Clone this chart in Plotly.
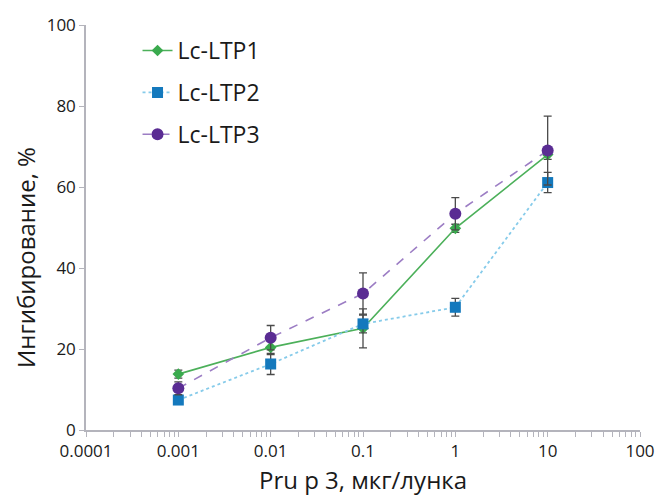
import plotly.graph_objects as go

# Concentration of Pru p 3 (µg/well)
dose = [0.001, 0.01, 0.1, 1, 10]

# Inhibition, % (mean and error) for each protein
ltp1 = [13.8, 20.4, 25.1, 49.8, 68.0]
ltp1_err = [1.0, 1.8, 4.8, 1.0, 1.2]

ltp2 = [7.4, 16.3, 26.2, 30.3, 61.1]
ltp2_err = [0.8, 2.6, 2.2, 2.2, 2.5]

ltp3 = [10.3, 22.8, 33.7, 53.4, 69.0]
ltp3_err = [1.6, 3.0, 5.1, 4.0, 8.5]

x_major_vals = [0.0001, 0.001, 0.01, 0.1, 1, 10, 100]
x_major_text = ["0.0001", "0.001", "0.01", "0.1", "1", "10", "100"]
y_tick_vals = [0, 20, 40, 60, 80, 100]

# Log-axis ticks: labelled decades plus unlabelled 2..9 within every decade
x_minor_vals = [k * 10.0 ** e for e in range(-4, 2) for k in range(2, 10)]
x_tick_vals = x_major_vals + x_minor_vals
x_tick_text = x_major_text + [""] * len(x_minor_vals)

FONT = "Open Sans"
TEXT_COLOR = "#1a1a1a"
AXIS_COLOR = "#b4b4bc"
ERR_COLOR = "#4a4a4a"

fig = go.Figure()

fig.add_trace(go.Scatter(
    x=dose, y=ltp1, name="Lc-LTP1", mode="lines+markers",
    line=dict(color="#4cb05a", width=1.6, dash="solid"),
    marker=dict(symbol="diamond", size=9, color="#3aaa4e"),
    error_y=dict(type="data", array=ltp1_err, color=ERR_COLOR, thickness=1.3, width=4),
    legendgroup="g1",
))
fig.add_trace(go.Scatter(
    x=dose, y=ltp2, name="Lc-LTP2", mode="lines+markers",
    line=dict(color="#86cbea", width=1.8, dash="dot"),
    marker=dict(symbol="square", size=11, color="#1479bd"),
    error_y=dict(type="data", array=ltp2_err, color=ERR_COLOR, thickness=1.3, width=4),
    legendgroup="g2",
))
fig.add_trace(go.Scatter(
    x=dose, y=ltp3, name="Lc-LTP3", mode="lines+markers",
    line=dict(color="#9c7dc4", width=1.6, dash="dash"),
    marker=dict(symbol="circle", size=12, color="#5a2c93"),
    error_y=dict(type="data", array=ltp3_err, color=ERR_COLOR, thickness=1.3, width=4),
    legendgroup="g3",
))

fig.update_layout(
    width=667, height=502,
    margin=dict(l=86, r=20, t=25, b=72),
    paper_bgcolor="white", plot_bgcolor="white",
    font=dict(family=FONT, size=17, color=TEXT_COLOR),
    showlegend=True,
    legend=dict(
        x=0.093, y=0.99, xanchor="left", yanchor="top",
        font=dict(family=FONT, size=23, color=TEXT_COLOR),
        bgcolor="rgba(0,0,0,0)",
        traceorder="grouped", tracegroupgap=9,
    ),
)

fig.update_xaxes(
    type="log", range=[-4, 2],
    tickmode="array", tickvals=x_tick_vals, ticktext=x_tick_text,
    ticks="outside", ticklen=5, tickcolor=AXIS_COLOR, tickwidth=1,
    showline=True, linecolor=AXIS_COLOR, linewidth=1.5,
    showgrid=False, zeroline=False,
    tickfont=dict(family=FONT, size=17),
    title=dict(text="Pru p 3, мкг/лунка", font=dict(family=FONT, size=24), standoff=11),
)
fig.update_yaxes(
    range=[0, 100], tickvals=y_tick_vals,
    ticks="outside", ticklen=5, tickcolor=AXIS_COLOR,
    showline=True, linecolor=AXIS_COLOR, linewidth=1.5,
    showgrid=False, zeroline=False,
    tickfont=dict(family=FONT, size=17),
)

# Vertical axis caption, set slightly below the middle of the axis
fig.add_annotation(
    text="Ингибирование, %", textangle=-90,
    xref="paper", yref="paper", x=-0.108, y=0.425,
    xanchor="center", yanchor="middle", showarrow=False,
    font=dict(family=FONT, size=24, color=TEXT_COLOR),
)

fig.write_html("out.html")
